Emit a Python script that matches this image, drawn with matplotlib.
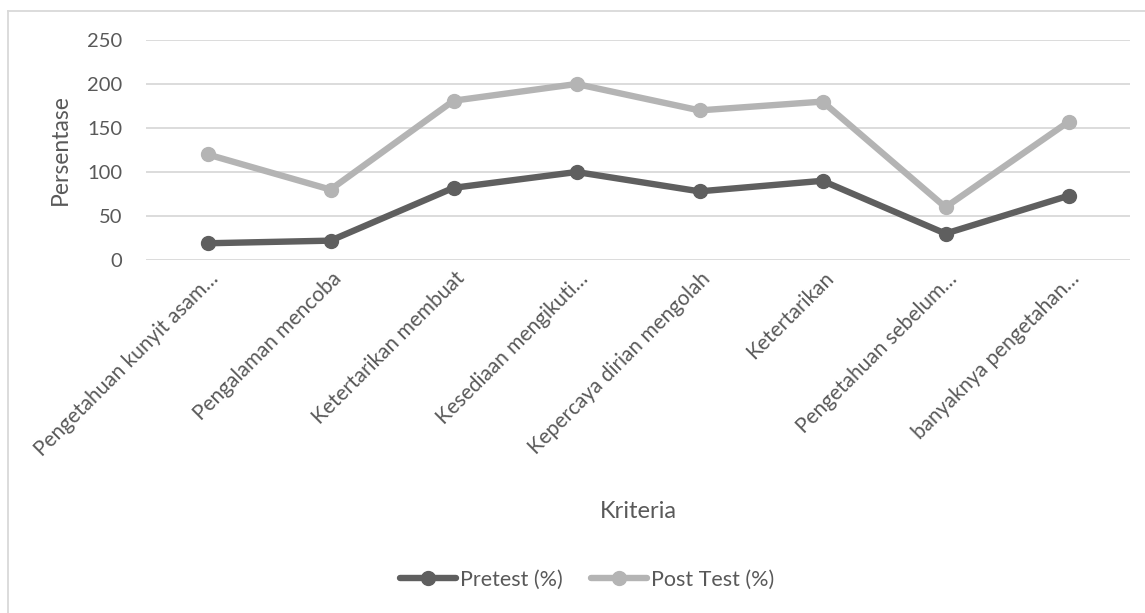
import matplotlib
matplotlib.use("Agg")
import matplotlib.pyplot as plt
from matplotlib.lines import Line2D
from matplotlib.transforms import ScaledTranslation

plt.rcParams['font.family'] = ['Lato', 'DejaVu Sans']

# data
kriteria = ["Pengetahuan kunyit asam…", "Pengalaman mencoba", "Ketertarikan membuat",
            "Kesediaan mengikuti…", "Kepercaya dirian mengolah", "Ketertarikan",
            "Pengetahuan sebelum…", "banyaknya pengetahan…"]
pretest = [19, 22, 82, 100, 78, 90, 30, 73]
post_test = [120, 80, 181, 200, 170, 180, 60, 157]
y_ticks = [0, 50, 100, 150, 200, 250]

text_col = "#595959"
grid_col = "#d9d9d9"

W, H = 1145, 613
fig = plt.figure(figsize=(W / 100, H / 100), dpi=100)
ax = fig.add_axes([146 / W, 1 - 260 / H, 984 / W, 220 / H])

x = range(len(kriteria))
ax.plot(x, pretest, color="#5f5f5f", lw=4.6, marker="o", ms=10,
        solid_capstyle="round", label="Pretest (%)", zorder=3)
ax.plot(x, post_test, color="#b4b4b4", lw=4.6, marker="o", ms=10,
        solid_capstyle="round", label="Post Test (%)", zorder=3)

ax.set_xlim(-0.5, len(kriteria) - 0.5)
ax.set_ylim(0, 250)
ax.set_yticks(y_ticks)
ax.yaxis.grid(True, color=grid_col, lw=1.3)
ax.set_axisbelow(True)
for s in ax.spines.values():
    s.set_visible(False)
ax.tick_params(axis="y", length=0, pad=17, labelsize=14.5, labelcolor=text_col)
ax.tick_params(axis="x", length=0, pad=6, labelsize=15, labelcolor=text_col)

ax.set_xticks(list(x))
ax.set_xticklabels(kriteria, rotation=45, ha="right", va="top",
                   rotation_mode="anchor")
shift = ScaledTranslation(1 / 100, 0, fig.dpi_scale_trans)
for lab in ax.get_xticklabels():
    lab.set_transform(lab.get_transform() + shift)

fig.text(60 / W, 1 - 150 / H, "Persentase", rotation=90, ha="center",
         va="center", fontsize=16.5, color=text_col)
fig.text(638 / W, 1 - 511 / H, "Kriteria", ha="center", va="center",
         fontsize=17, color=text_col)

leg = fig.legend(loc="center", bbox_to_anchor=(587 / W, 1 - 580 / H), ncol=2,
                 frameon=False, fontsize=15.5, handlelength=2.6,
                 handletextpad=0.2, columnspacing=1.3)
for t in leg.get_texts():
    t.set_color(text_col)

# chart frame (left and top edges)
fig.add_artist(Line2D([8 / W, 8 / W], [0, 1 - 11 / H], color=grid_col, lw=1.3,
                      transform=fig.transFigure))
fig.add_artist(Line2D([8 / W, 1], [1 - 11 / H, 1 - 11 / H], color=grid_col,
                      lw=1.3, transform=fig.transFigure))

fig.savefig("out.png", dpi=100)
